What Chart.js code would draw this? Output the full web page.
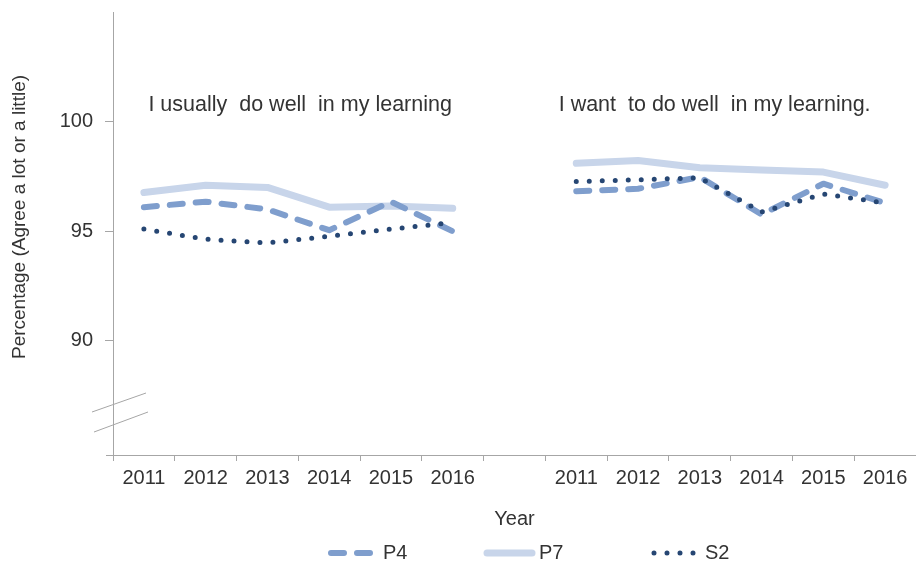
<!DOCTYPE html>
<html>
<head>
<meta charset="utf-8">
<script src="https://cdn.jsdelivr.net/npm/chart.js@4"></script>
<style>
  html, body { margin: 0; padding: 0; background: #fff; }
  #wrap { width: 916px; height: 567px; }
</style>
</head>
<body>
<div id="wrap"><canvas id="chart" width="916" height="567"></canvas></div>
<script>
// --- DATA ---
const years = ['2011', '2012', '2013', '2014', '2015', '2016'];
const panelTitles = ['I usually  do well  in my learning', 'I want  to do well  in my learning.'];
const yTicks = [90, 95, 100];

// "I usually do well" panel, then "I want to do well" panel
const p4Learn = [96.1, 96.35, 96.0, 95.05, 96.35, 95.0];
const p4Want  = [96.83, 96.94, 97.47, 95.77, 97.17, 96.29];
const p7Learn = [96.77, 97.1, 97.0, 96.1, 96.15, 96.05];
const p7Want  = [98.1, 98.23, 97.9, 97.8, 97.7, 97.1];
const s2Learn = [95.1, 94.64, 94.47, 94.77, 95.1, 95.4];
const s2Want  = [97.27, 97.35, 97.44, 95.88, 96.7, 96.29];

const labels = [...years, '', ...years];
const join = (a, b) => [...a, null, ...b];

const FONT = 'Liberation Sans, Arial, sans-serif';
const TEXT = '#333333';
const AXIS = '#a6a6a6';

// --- PLUGIN: titles, axis break, y title, line legend ---
const extras = {
    id: 'extras',
    afterDraw(chart) {
        const { ctx, scales: { x, y }, chartArea } = chart;
        ctx.save();

        // panel titles
        ctx.fillStyle = TEXT;
        ctx.font = `21.5px ${FONT}`;
        ctx.textAlign = 'center';
        ctx.textBaseline = 'middle';
        ctx.fillText(panelTitles[0], x.getPixelForValue(2.53), y.getPixelForValue(100.75));
        ctx.fillText(panelTitles[1], x.getPixelForValue(9.24), y.getPixelForValue(100.75));

        // y axis title
        ctx.font = `19px ${FONT}`;
        ctx.translate(20, 217);
        ctx.rotate(-Math.PI / 2);
        ctx.fillText('Percentage (Agree a lot or a little)', 0, 0);
        ctx.setTransform(1, 0, 0, 1, 0, 0);

        // axis break marks + small x axis stub
        ctx.strokeStyle = AXIS;
        ctx.lineWidth = 1;
        const l = chartArea.left, b = chartArea.bottom;
        ctx.beginPath();
        ctx.moveTo(l - 21, b - 43); ctx.lineTo(l + 33, b - 62);
        ctx.moveTo(l - 19, b - 23); ctx.lineTo(l + 35, b - 43);
        ctx.moveTo(l - 7, b + 0.5); ctx.lineTo(l, b + 0.5);
        ctx.stroke();

        // legend with line samples
        const ly = 553;
        chart.data.datasets.forEach((ds, i) => {
            const x0 = 328 + i * 156;
            ctx.strokeStyle = ds.borderColor;
            ctx.lineWidth = ds.borderWidth;
            ctx.lineCap = 'round';
            ctx.setLineDash(ds.borderDash || []);
            ctx.beginPath();
            if (ds.label === 'P4') { ctx.moveTo(x0 + 3, ly); ctx.lineTo(x0 + 46, ly); }
            else if (ds.label === 'S2') { ctx.moveTo(x0 + 14, ly); ctx.lineTo(x0 + 62, ly); }
            else { ctx.moveTo(x0 + 3, ly); ctx.lineTo(x0 + 48, ly); }
            ctx.stroke();
            ctx.setLineDash([]);
            ctx.fillStyle = TEXT;
            ctx.font = `20px ${FONT}`;
            ctx.textAlign = 'left';
            ctx.fillText(ds.label, x0 + (ds.label === 'S2' ? 65 : 55), ly);
        });
        ctx.restore();
    }
};

new Chart(document.getElementById('chart'), {
    type: 'line',
    data: {
        labels: labels,
        datasets: [
            { label: 'P4', data: join(p4Learn, p4Want), borderColor: '#7f9ecd', borderWidth: 6, borderDash: [13, 13], order: 1 },
            { label: 'P7', data: join(p7Learn, p7Want), borderColor: '#c8d5ea', borderWidth: 7, order: 2 },
            { label: 'S2', data: join(s2Learn, s2Want), borderColor: '#264673', borderWidth: 5, borderDash: [0, 13], order: 0 }
        ].map(d => Object.assign(d, {
            pointRadius: 0, tension: 0, spanGaps: false, fill: false,
            borderCapStyle: 'round', borderJoinStyle: 'round'
        }))
    },
    options: {
        responsive: false,
        animation: false,
        layout: { padding: { top: 12, left: 0, right: 0, bottom: 0 } },
        plugins: { legend: { display: false }, tooltip: { enabled: false } },
        scales: {
            x: {
                type: 'category',
                offset: true,
                afterFit: s => { s.height = 112; s.paddingLeft = 0; s.paddingRight = 0; },
                grid: { offset: true, drawOnChartArea: false, drawTicks: true, tickLength: 6, color: AXIS },
                border: { color: AXIS },
                ticks: { font: { family: FONT, size: 20 }, color: TEXT, padding: 5, maxRotation: 0, autoSkip: false },
                title: { display: true, text: 'Year', font: { family: FONT, size: 20 }, color: TEXT, padding: { top: 0, bottom: 36 } }
            },
            y: {
                min: 84.8,
                max: 105,
                afterFit: s => { s.width = 113; s.paddingTop = 0; s.paddingBottom = 0; },
                afterBuildTicks: s => { s.ticks = yTicks.map(v => ({ value: v })); },
                grid: { drawOnChartArea: false, drawTicks: true, tickLength: 8, color: AXIS },
                border: { color: AXIS },
                ticks: { font: { family: FONT, size: 20 }, color: TEXT, padding: 12 }
            }
        }
    },
    plugins: [extras]
});
</script>
</body>
</html>
